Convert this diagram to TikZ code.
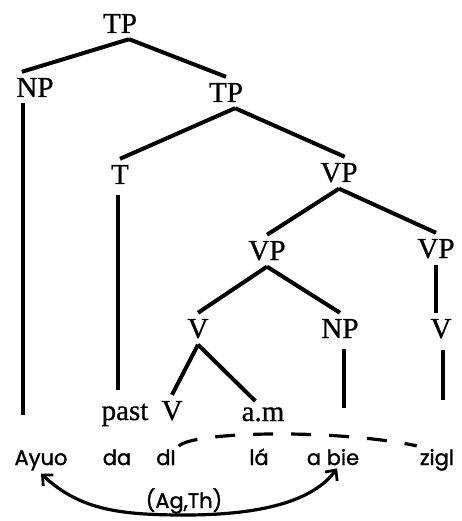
\documentclass[tikz,border=0pt]{standalone}
\usepackage{fontspec}
\setmainfont[FakeBold=0.8]{Liberation Serif}
\newfontfamily\glossfont[FakeBold=1.4]{Poppins}
\usetikzlibrary{arrows.meta}

\begin{document}
\begin{tikzpicture}[x=1pt, y=-1pt,
  cat/.style={anchor=base, inner xsep=3pt, inner ysep=6pt, font=\fontsize{29}{29}\selectfont},
  word/.style={anchor=base, inner sep=3pt, font=\glossfont\fontsize{21}{21}\selectfont},
  branch/.style={line width=4pt},
  barb/.tip={Straight Barb[length=8pt, width=15pt, line width=2.8pt]}]
\useasboundingbox (0,0) rectangle (462,521);
% categories
\node[cat] (tp1) at (120,33) {TP};
\node[cat] (np1) at (35,97) {NP};
\node[cat] (tp2) at (226,102) {TP};
\node[cat] (t) at (120,184) {T};
\node[cat] (vp1) at (339,182) {VP};
\node[cat] (vp2) at (267,260) {VP};
\node[cat] (vp3) at (436,258) {VP};
\node[cat] (v1) at (198,338) {V};
\node[cat] (np2) at (340,338) {NP};
\node[cat] (v2) at (441,338) {V};
\node[cat] (past) at (125,420) {past};
\node[cat] (vlow) at (172,420) {V};
\node[cat] (am) at (263,421) {a.m};
% words
\node[word] (ayuo) at (41,465) {Ayuo};
\node[word] (da) at (117,465) {da};
\node[word] (di) at (166,465) {dI};
\node[word] (la) at (259,465) {lá};
\node[word] (abie) at (333,465) {a bie};
\node[word] (zigl) at (437,465) {zigl};
\node[word] (agth) at (184,508) {(Ag,Th)};
% ends of the long branches
\coordinate (e1) at (23,415);
\coordinate (e2) at (118,390);
\coordinate (e3) at (344,408);
\coordinate (e4) at (443,400);

\draw[branch] (tp1.-60) -- (np1.130);
\draw[branch] (tp1.-60) -- (tp2.north);
\draw[branch] (tp2.-60) -- (t.north);
\draw[branch] (tp2.-60) -- (vp1.70);
\draw[branch] (vp1.south) -- (vp2.north);
\draw[branch] (vp1.south) -- (vp3.north);
\draw[branch] (vp2.south) -- (v1.north);
\draw[branch] (vp2.south) -- (np2.north);
\draw[branch] (v1.south) -- (vlow.north);
\draw[branch] (v1.south) -- (am.120);
\draw[branch] (vp3.south) -- (vp3.south |- v2.north);
\draw[branch] (np1.south -| e1) -- (e1);
\draw[branch, shorten <=5pt] (t.south -| e2) -- (e2);
\draw[branch, shorten <=5pt] (np2.south -| e3) -- (e3);
\draw[branch, shorten <=5pt] (v2.south -| e4) -- (e4);

\draw[line width=3.2pt, dash pattern=on 20pt off 18pt] (di.north east) .. controls (190,432) and (330,428) .. (zigl.north west);
\draw[line width=3.2pt, barb-barb] (ayuo.south) .. controls (80,510) and (120,515) .. (185,515) .. controls (250,515) and (310,505) .. (abie.-70);
\end{tikzpicture}
\end{document}
